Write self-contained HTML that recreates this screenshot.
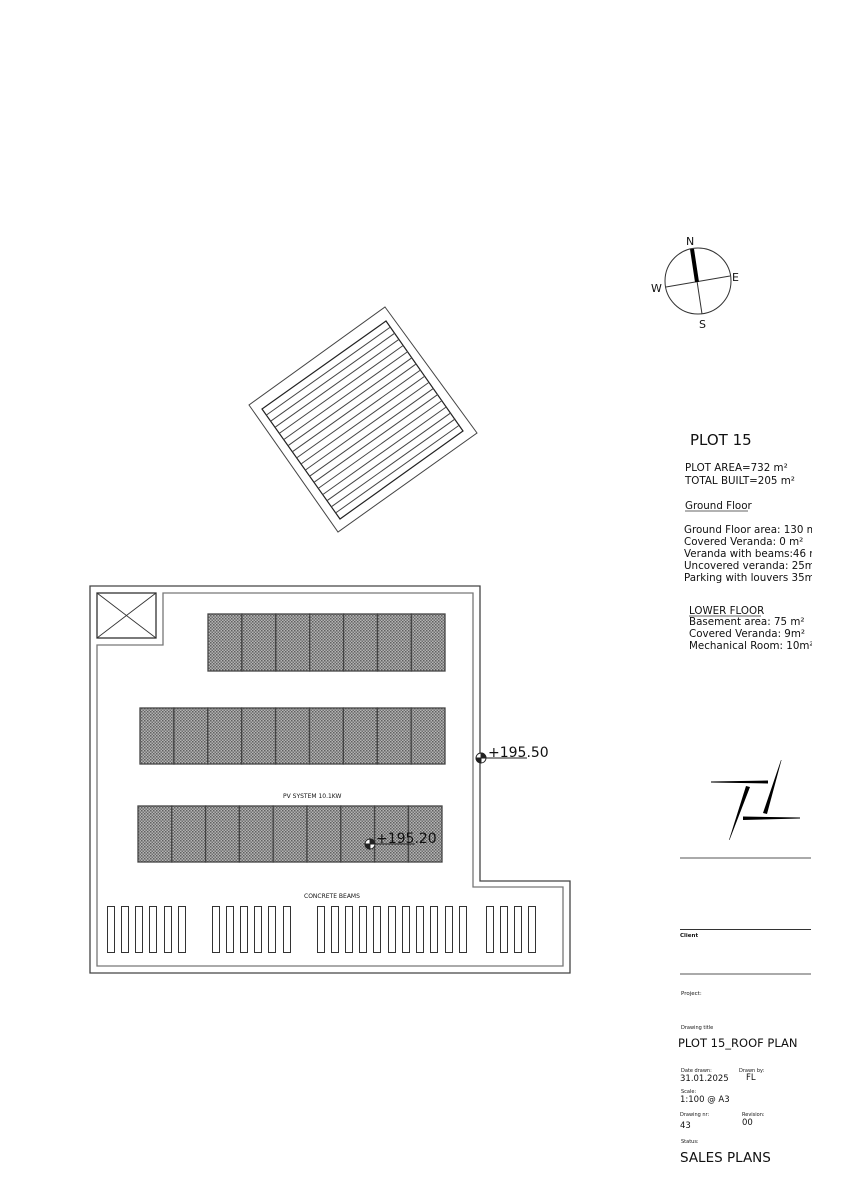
<!DOCTYPE html>
<html><head><meta charset="utf-8"><style>
html,body{margin:0;padding:0;background:#fff}
svg{display:block}
text{font-family:"DejaVu Sans","Liberation Sans",sans-serif;fill:#111}
</style></head><body>
<svg width="842" height="1191" viewBox="0 0 842 1191" xmlns="http://www.w3.org/2000/svg">
<defs>
<pattern id="dots" width="3" height="3" patternUnits="userSpaceOnUse">
<rect width="3" height="3" fill="#b4b4b4"/><rect width="1.5" height="1.5" fill="#606060"/><rect x="1.5" y="1.5" width="1.5" height="1.5" fill="#707070"/>
</pattern>
<clipPath id="rc"><rect x="0" y="0" width="812" height="1191"/></clipPath>
</defs>

<polygon points="385,307 477,433 338,532 249,405" fill="none" stroke="#444" stroke-width="1"/>
<polygon points="386,321 463,431 340,519 262,409" fill="none" stroke="#222" stroke-width="1.2"/>
<g stroke="#444" stroke-width="1">
<line x1="266.3" y1="415.1" x2="390.3" y2="327.1"/>
<line x1="270.7" y1="421.2" x2="394.7" y2="333.2"/>
<line x1="275" y1="427.3" x2="399" y2="339.3"/>
<line x1="279.3" y1="433.4" x2="403.3" y2="345.4"/>
<line x1="283.7" y1="439.6" x2="407.7" y2="351.6"/>
<line x1="288" y1="445.7" x2="412" y2="357.7"/>
<line x1="292.3" y1="451.8" x2="416.3" y2="363.8"/>
<line x1="296.7" y1="457.9" x2="420.7" y2="369.9"/>
<line x1="301" y1="464" x2="425" y2="376"/>
<line x1="305.3" y1="470.1" x2="429.3" y2="382.1"/>
<line x1="309.7" y1="476.2" x2="433.7" y2="388.2"/>
<line x1="314" y1="482.3" x2="438" y2="394.3"/>
<line x1="318.3" y1="488.4" x2="442.3" y2="400.4"/>
<line x1="322.7" y1="494.6" x2="446.7" y2="406.6"/>
<line x1="327" y1="500.7" x2="451" y2="412.7"/>
<line x1="331.3" y1="506.8" x2="455.3" y2="418.8"/>
<line x1="335.7" y1="512.9" x2="459.7" y2="424.9"/>
</g>

<circle cx="698" cy="281" r="33" fill="none" stroke="#333" stroke-width="1"/>
<line x1="666" y1="287" x2="730" y2="276" stroke="#333" stroke-width="1"/>
<line x1="697" y1="281" x2="702" y2="314" stroke="#333" stroke-width="1"/>
<line x1="692" y1="249" x2="697" y2="282" stroke="#000" stroke-width="4"/>
<text x="686" y="245" font-size="11">N</text>
<text x="732" y="281" font-size="11">E</text>
<text x="651" y="292" font-size="11">W</text>
<text x="699" y="328" font-size="11">S</text>

<polygon points="90,586 480,586 480,881 570,881 570,973 90,973" fill="none" stroke="#444" stroke-width="1.3"/>
<polygon points="163,593 473,593 473,887 563,887 563,966 97,966 97,645 163,645" fill="none" stroke="#777" stroke-width="1.3"/>
<rect x="97" y="593" width="59" height="45" fill="none" stroke="#333" stroke-width="1.3"/>
<line x1="97" y1="593" x2="156" y2="638" stroke="#333" stroke-width="0.9"/>
<line x1="156" y1="593" x2="97" y2="638" stroke="#333" stroke-width="0.9"/>

<g fill="url(#dots)" stroke="#444" stroke-width="1.3">
<rect x="208" y="614" width="33.9" height="57"/><rect x="241.9" y="614" width="33.9" height="57"/><rect x="275.8" y="614" width="33.9" height="57"/><rect x="309.7" y="614" width="33.9" height="57"/><rect x="343.6" y="614" width="33.9" height="57"/><rect x="377.5" y="614" width="33.9" height="57"/><rect x="411.4" y="614" width="33.6" height="57"/>
<rect x="140" y="708" width="33.9" height="56"/><rect x="173.9" y="708" width="33.9" height="56"/><rect x="207.8" y="708" width="33.9" height="56"/><rect x="241.7" y="708" width="33.9" height="56"/><rect x="275.6" y="708" width="33.9" height="56"/><rect x="309.5" y="708" width="33.9" height="56"/><rect x="343.4" y="708" width="33.9" height="56"/><rect x="377.3" y="708" width="33.9" height="56"/><rect x="411.2" y="708" width="33.8" height="56"/>
<rect x="138" y="806" width="33.8" height="56"/><rect x="171.8" y="806" width="33.8" height="56"/><rect x="205.6" y="806" width="33.8" height="56"/><rect x="239.4" y="806" width="33.8" height="56"/><rect x="273.2" y="806" width="33.8" height="56"/><rect x="307" y="806" width="33.8" height="56"/><rect x="340.8" y="806" width="33.8" height="56"/><rect x="374.6" y="806" width="33.8" height="56"/><rect x="408.4" y="806" width="33.6" height="56"/>
</g>

<text x="283" y="798" font-size="6" font-family="Liberation Sans">PV SYSTEM 10.1KW</text>
<text x="304" y="898" font-size="6" font-family="Liberation Sans">CONCRETE BEAMS</text>

<g fill="none" stroke="#333" stroke-width="1">
<rect x="107.5" y="906.5" width="7" height="46"/><rect x="121.5" y="906.5" width="7" height="46"/><rect x="135.5" y="906.5" width="7" height="46"/><rect x="149.5" y="906.5" width="7" height="46"/><rect x="164.5" y="906.5" width="7" height="46"/><rect x="178.5" y="906.5" width="7" height="46"/>
<rect x="212.5" y="906.5" width="7" height="46"/><rect x="226.5" y="906.5" width="7" height="46"/><rect x="240.5" y="906.5" width="7" height="46"/><rect x="254.5" y="906.5" width="7" height="46"/><rect x="268.5" y="906.5" width="7" height="46"/><rect x="283.5" y="906.5" width="7" height="46"/>
<rect x="317.5" y="906.5" width="7" height="46"/><rect x="331.5" y="906.5" width="7" height="46"/><rect x="345.5" y="906.5" width="7" height="46"/><rect x="359.5" y="906.5" width="7" height="46"/><rect x="373.5" y="906.5" width="7" height="46"/><rect x="388.5" y="906.5" width="7" height="46"/><rect x="402.5" y="906.5" width="7" height="46"/><rect x="416.5" y="906.5" width="7" height="46"/><rect x="430.5" y="906.5" width="7" height="46"/><rect x="445.5" y="906.5" width="7" height="46"/><rect x="459.5" y="906.5" width="7" height="46"/>
<rect x="486.5" y="906.5" width="7" height="46"/><rect x="500.5" y="906.5" width="7" height="46"/><rect x="514.5" y="906.5" width="7" height="46"/><rect x="528.5" y="906.5" width="7" height="46"/>
</g>

<g stroke="#222" stroke-width="0.9">
<circle cx="481" cy="758" r="5" fill="#fff"/>
<path d="M481,758 L481,753 A5,5 0 0 1 486,758 Z M481,758 L481,763 A5,5 0 0 1 476,758 Z" fill="#222"/>
<line x1="476" y1="758" x2="527" y2="758"/>
<circle cx="370" cy="844" r="5" fill="#fff"/>
<path d="M370,844 L370,839 A5,5 0 0 1 375,844 Z M370,844 L370,849 A5,5 0 0 1 365,844 Z" fill="#222"/>
<line x1="365" y1="844" x2="415" y2="844"/>
</g>
<text x="488" y="757" font-size="14" font-family="Liberation Sans" fill="#333">+195.50</text>
<text x="376" y="843" font-size="14" font-family="Liberation Sans" fill="#333">+195.20</text>

<g clip-path="url(#rc)">
<text x="690" y="445" font-size="15" font-family="Liberation Sans">PLOT 15</text>
<text x="685" y="471" font-size="10.3">PLOT AREA=732 m²</text>
<text x="685" y="484" font-size="10.3">TOTAL BUILT=205 m²</text>
<text x="685" y="509" font-size="10.3">Ground Floor</text>
<line x1="685" y1="511" x2="748" y2="511" stroke="#333" stroke-width="0.8"/>
<text x="684" y="533" font-size="10.3">Ground Floor area: 130 m²</text>
<text x="684" y="545" font-size="10.3">Covered Veranda: 0 m²</text>
<text x="684" y="557" font-size="10.3">Veranda with beams:46 m²</text>
<text x="684" y="569" font-size="10.3">Uncovered veranda: 25m²</text>
<text x="684" y="581" font-size="10.3">Parking with louvers 35m²</text>
<text x="689" y="614" font-size="10.3">LOWER FLOOR</text>
<line x1="689" y1="616" x2="761" y2="616" stroke="#333" stroke-width="0.8"/>
<text x="689" y="625" font-size="10.3">Basement area: 75 m²</text>
<text x="689" y="637" font-size="10.3">Covered Veranda: 9m²</text>
<text x="689" y="649" font-size="10.3">Mechanical Room: 10m²</text>
</g>

<polygon points="711,781.5 768,780.5 768,783.5 711,782.5" fill="#000"/>
<polygon points="746,786 750,787 729.5,840 729,840" fill="#000"/>
<polygon points="781,760 781.5,760 767,814 763,813" fill="#000"/>
<polygon points="743,816.5 800,817.5 800,818.5 743,820" fill="#000"/>

<g stroke="#555" stroke-width="1">
<line x1="680" y1="858" x2="811" y2="858"/>
<line x1="680" y1="929.5" x2="811" y2="929.5" stroke="#333"/>
<line x1="680" y1="974" x2="811" y2="974"/>
</g>
<text x="680" y="937" font-size="5.5" font-weight="bold">Client</text>
<text x="681" y="995" font-size="5.5" fill="#444">Project:</text>
<text x="681" y="1029" font-size="5" fill="#444">Drawing title</text>
<text x="678" y="1047" font-size="11.5">PLOT 15_ROOF PLAN</text>
<text x="681" y="1072" font-size="5" fill="#444">Date drawn:</text>
<text x="739" y="1072" font-size="5" fill="#444">Drawn by:</text>
<text x="680" y="1081" font-size="8.5">31.01.2025</text>
<text x="746" y="1080" font-size="8.5">FL</text>
<text x="681" y="1093" font-size="5" fill="#444">Scale:</text>
<text x="680" y="1102" font-size="8.5">1:100 @ A3</text>
<text x="680" y="1116" font-size="5" fill="#444">Drawing nr:</text>
<text x="742" y="1116" font-size="5" fill="#444">Revision:</text>
<text x="680" y="1128" font-size="8.5">43</text>
<text x="742" y="1125" font-size="8.5">00</text>
<text x="681" y="1143" font-size="5" fill="#444">Status:</text>
<text x="680" y="1162" font-size="13.5">SALES PLANS</text>
</svg>
</body></html>
